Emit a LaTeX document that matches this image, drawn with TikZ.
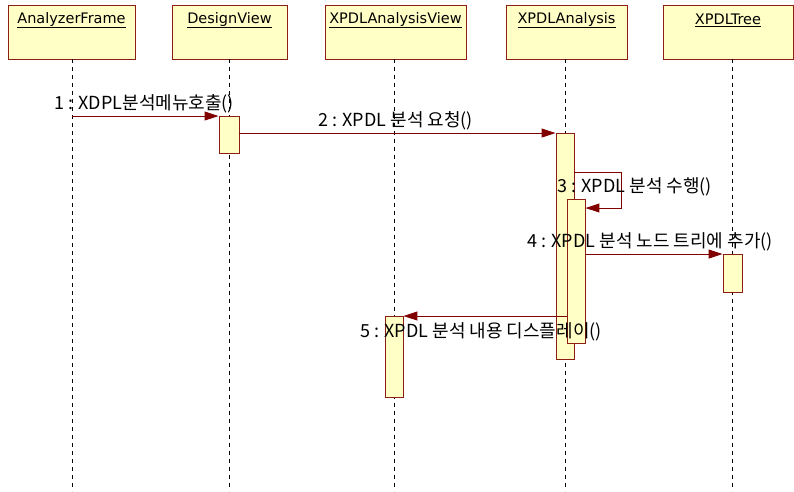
\documentclass[tikz,border=0pt]{standalone}
\usepackage{fontspec}
\setmainfont{DejaVu Sans}
\newfontfamily\krfont{Noto Sans CJK KR}
\usetikzlibrary{arrows.meta}
\definecolor{boxfill}{RGB}{255,255,198}
\definecolor{boxline}{RGB}{140,30,20}
\definecolor{msgline}{RGB}{128,0,0}
\tikzset{
  hdr/.style={draw=boxline, fill=boxfill, line width=1pt, minimum height=54pt, inner sep=0pt, anchor=north},
  hdrtext/.style={font=\fontsize{14.5}{16}\selectfont, inner sep=0pt, anchor=center},
  act/.style={draw=boxline, fill=boxfill, line width=0.9pt, minimum width=18pt, inner sep=0pt, anchor=north},
  life/.style={black, line width=0.8pt, dash pattern=on 4pt off 4pt},
  msg/.style={msgline, line width=1pt, -{Triangle[length=14pt,width=9pt]}},
  lbl/.style={font=\krfont\fontsize{18}{20}\selectfont, inner sep=0pt, anchor=west}
}
\begin{document}
\begin{tikzpicture}[x=1pt,y=-1pt]
\useasboundingbox (0,0) rectangle (794,491);
% headers
\node[hdr, minimum width=127pt] (af) at (71.5,5) {};
\node[hdr, minimum width=115pt] (dv) at (229.5,5) {};
\node[hdr, minimum width=141pt] (xav) at (395.5,5) {};
\node[hdr, minimum width=121pt] (xa) at (566.5,5) {};
\node[hdr, minimum width=130pt] (xt) at (728,5) {};
\node[hdrtext] (aft) at (71.5,20) {\underline{AnalyzerFrame}};
\node[hdrtext] (dvt) at (229.5,20) {\underline{DesignView}};
\node[hdrtext] (xavt) at (395.5,20) {\underline{XPDLAnalysisView}};
\node[hdrtext] (xat) at (566.5,20) {\underline{XPDLAnalysis}};
\node[hdrtext] (xtt) at (728,20) {\underline{XPDLTree}};
% lifeline ends
\coordinate (afe) at (72,491);
\coordinate (dve) at (229,491);
\coordinate (xave) at (394,491);
\coordinate (xae) at (565,491);
\coordinate (xte) at (732,491);
\draw[life] (72,59) -- (afe);
\draw[life] (229,59) -- (dve);
\draw[life] (394,59) -- (xave);
\draw[life] (565,59) -- (xae);
\draw[life] (732,59) -- (xte);
% activations
\node[act, minimum width=20pt, minimum height=37pt] (dv1) at (229,116) {};
\node[act, minimum height=226pt] (xa1) at (565,133) {};
\node[act, minimum height=144pt] (xa2) at (576,199) {};
\node[act, minimum width=19pt, minimum height=38pt] (xt1) at (732.5,254) {};
\node[act, minimum height=81pt] (xav1) at (394,316) {};
% messages
\draw[msg] (afe |- dv1.north) -- (dv1.north west);
\draw[msg] (dv1.east |- xa1.north) -- (xa1.north west);
\coordinate (s3a) at (621,172);
\draw[msg] (xa1.east |- s3a) -- (s3a) |- ([yshift=-9pt]xa2.north east);
\draw[msg] (xa2.east |- xt1.north) -- (xt1.north west);
\draw[msg] (xa2.west |- xav1.north) -- (xav1.north east);
% labels
\node[lbl] (l1) at (54,104) {1 : XDPL분석메뉴호출()};
\node[lbl] (l2) at (318,121) {2 : XPDL 분석 요청()};
\node[lbl] (l3) at (557,187) {3 : XPDL 분석 수행()};
\node[lbl] (l4) at (527,242) {4 : XPDL 분석 노드 트리에 추가()};
\node[lbl] (l5) at (360,332) {5 : XPDL 분석 내용 디스플레이()};
\end{tikzpicture}
\end{document}
